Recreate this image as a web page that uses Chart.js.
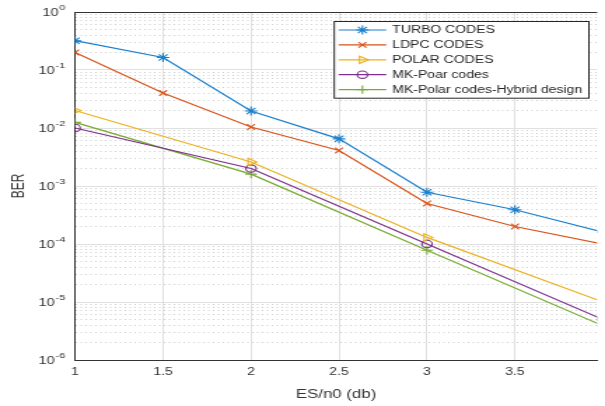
<!DOCTYPE html>
<html>
<head>
<meta charset="utf-8">
<script src="https://cdn.jsdelivr.net/npm/chart.js@4/dist/chart.umd.min.js"></script>
<style>
  html, body { margin: 0; padding: 0; background: #fff; overflow: hidden; }
  #c { display: block; width: 605px; height: 406px; }
</style>
</head>
<body>
<canvas id="c" width="432" height="406" style="width:605px;height:406px;"></canvas>
<script>
// ---- data ----
const snrFine = [1, 1.5, 2, 2.5, 3, 3.5, 4];
const snrCoarse = [1, 2, 3, 4];
const turboBER = [0.32, 0.164, 0.0196, 0.0065, 0.00078, 0.00039, 0.00016];
const ldpcBER = [0.2, 0.04, 0.0104, 0.0041, 0.0005, 0.0002, 0.0001];
const polarBER = [0.02, 0.0026, 0.00013, 0.00001];
const mkPoarBER = [0.01, 0.002, 0.0001, 0.000005];
const hybridBER = [0.0125, 0.0016, 0.000078, 0.0000039];
const seriesLabels = ['TURBO CODES', 'LDPC CODES', 'POLAR CODES', 'MK-Poar codes', 'MK-Polar codes-Hybrid design'];
const xTickValues = [1, 1.5, 2, 2.5, 3, 3.5];
const yDecades = [-6, -5, -4, -3, -2, -1, 0];
const xAxisTitle = 'ES/n0 (db)';
const yAxisTitle = 'BER';

const FONT = '"Liberation Sans", Arial, Helvetica, sans-serif';
Chart.defaults.font.family = FONT;
Chart.defaults.color = '#262626';

const toPts = (xs, ys) => xs.map((x, i) => ({ x: x, y: ys[i] }));
const isDecade = v => v > 0 && Math.abs(Math.log10(v) - Math.round(Math.log10(v))) < 1e-6;

function ds(label, xs, ys, color, style, radius, rotation) {
  return {
    label: label,
    data: toPts(xs, ys),
    borderColor: color,
    backgroundColor: color,
    borderWidth: 1.2,
    pointStyle: style,
    pointRadius: radius,
    pointRotation: rotation || 0,
    pointBorderColor: color,
    pointBackgroundColor: 'rgba(0,0,0,0)',
    pointBorderWidth: 1.1,
    pointHoverRadius: radius,
    tension: 0,
    fill: false,
    showLine: true
  };
}

const datasets = [
  ds(seriesLabels[0], snrFine, turboBER, '#1a7fcc', 'star', 4.5),
  ds(seriesLabels[1], snrFine, ldpcBER, '#D95319', 'crossRot', 4),
  ds(seriesLabels[2], snrCoarse, polarBER, '#EDB120', 'triangle', 4.2, 90),
  ds(seriesLabels[3], snrCoarse, mkPoarBER, '#7E2F8E', 'circle', 3.7),
  ds(seriesLabels[4], snrCoarse, hybridBER, '#77AC30', 'cross', 4.2)
];

// top edge of the axes box
const boxPlugin = {
  id: 'boxTop',
  afterDatasetsDraw(chart) {
    const { ctx, chartArea } = chart;
    ctx.save();
    ctx.strokeStyle = '#333333';
    ctx.lineWidth = 1;
    ctx.beginPath();
    ctx.moveTo(chartArea.left, chartArea.top + 0.5);
    ctx.lineTo(chartArea.right, chartArea.top + 0.5);
    ctx.stroke();
    ctx.restore();
  }
};

// y tick labels "10" with a raised exponent, placed by the y scale
const powerLabels = {
  id: 'powerLabels',
  afterDraw(chart) {
    const { ctx } = chart;
    const ys = chart.scales.y;
    const rightEdge = ys.right - 7;
    ctx.save();
    ctx.fillStyle = '#333333';
    ctx.textBaseline = 'middle';
    yDecades.forEach(e => {
      const py = ys.getPixelForValue(Math.pow(10, e));
      const expStr = String(e);
      ctx.font = '8px ' + FONT;
      const ew = ctx.measureText(expStr).width;
      ctx.textAlign = 'left';
      ctx.fillText(expStr, rightEdge - ew, py - 4);
      ctx.font = '10.5px ' + FONT;
      ctx.textAlign = 'right';
      ctx.fillText('10', rightEdge - ew - 0.3, py + 1.5);
    });
    ctx.restore();
  }
};

const legendPlugin = {
  id: 'boxLegend',
  afterDraw(chart) {
    const { ctx, chartArea } = chart;
    ctx.save();
    ctx.font = '10px ' + FONT;
    const sets = chart.data.datasets;
    const maxW = Math.max.apply(null, sets.map(d => ctx.measureText(d.label).width));
    const padL = 3.6, sampleLen = 34, gap = 4.3, padR = 4.3, rowH = 14.9, h = 76.7;
    const w = padL + sampleLen + gap + maxW + padR;
    const right = chartArea.right - 6.4;
    const left = right - w;
    const top = chartArea.top + 9;
    ctx.fillStyle = '#ffffff';
    ctx.fillRect(left, top, w, h);
    ctx.strokeStyle = '#262626';
    ctx.lineWidth = 1;
    ctx.strokeRect(left + 0.5, top + 0.5, w, h);
    sets.forEach((d, i) => {
      const y = top + 9 + i * rowH;
      const x0 = left + padL;
      ctx.strokeStyle = d.borderColor;
      ctx.lineWidth = d.borderWidth;
      ctx.beginPath();
      ctx.moveTo(x0, y);
      ctx.lineTo(x0 + sampleLen, y);
      ctx.stroke();
      ctx.fillStyle = 'rgba(0,0,0,0)';
      ctx.lineWidth = d.pointBorderWidth;
      if (Chart.helpers && Chart.helpers.drawPoint) {
        Chart.helpers.drawPoint(ctx, {
          pointStyle: d.pointStyle,
          radius: d.pointRadius,
          rotation: d.pointRotation || 0,
          borderWidth: d.pointBorderWidth
        }, x0 + sampleLen / 2, y);
      }
      ctx.fillStyle = '#262626';
      ctx.textAlign = 'left';
      ctx.textBaseline = 'middle';
      ctx.fillText(d.label, x0 + sampleLen + gap, y + 0.5);
    });
    ctx.restore();
  }
};

new Chart(document.getElementById('c'), {
  type: 'line',
  data: { datasets: datasets },
  plugins: [boxPlugin, powerLabels, legendPlugin],
  options: {
    responsive: false,
    animation: false,
    devicePixelRatio: 1,
    layout: { padding: { top: 12, right: 0, bottom: 3.8, left: 0 } },
    plugins: { legend: { display: false }, tooltip: { enabled: false } },
    scales: {
      x: {
        type: 'linear',
        min: 1,
        max: 3.967,
        afterBuildTicks: s => { s.ticks = xTickValues.map(v => ({ value: v })); },
        ticks: {
          autoSkip: false,
          maxRotation: 0,
          padding: 6,
          font: { size: 10 },
          color: '#333333',
          callback: v => String(v)
        },
        grid: { color: '#e0e0e0', lineWidth: 1, drawTicks: false },
        border: { color: '#333333', width: 1 },
        title: {
          display: true,
          text: xAxisTitle,
          font: { size: 12 },
          color: '#333333',
          padding: { top: 3.8, bottom: 0 }
        }
      },
      y: {
        type: 'logarithmic',
        min: 1e-6,
        max: 1,
        afterBuildTicks: s => {
          const t = [];
          yDecades.forEach(e => {
            for (let m = 1; m <= 9; m++) {
              const v = m * Math.pow(10, e);
              if (v <= 1.0000001) t.push({ value: v });
            }
          });
          s.ticks = t;
        },
        afterFit: s => { s.width = 53.6; },
        ticks: {
          display: false,
          autoSkip: false,
          callback: v => isDecade(v) ? '10^' + Math.round(Math.log10(v)) : ''
        },
        grid: {
          drawTicks: false,
          color: c => (c.tick && isDecade(c.tick.value)) ? '#e0e0e0' : '#cccccc',
          lineWidth: 1
        },
        border: {
          color: '#333333',
          width: 1,
          dash: c => (c.tick && !isDecade(c.tick.value)) ? [1, 2.5] : []
        },
        title: {
          display: true,
          text: yAxisTitle,
          font: { size: 12 },
          color: '#333333',
          padding: { top: 6.4, bottom: 0 }
        }
      }
    }
  }
});
</script>
</body>
</html>
